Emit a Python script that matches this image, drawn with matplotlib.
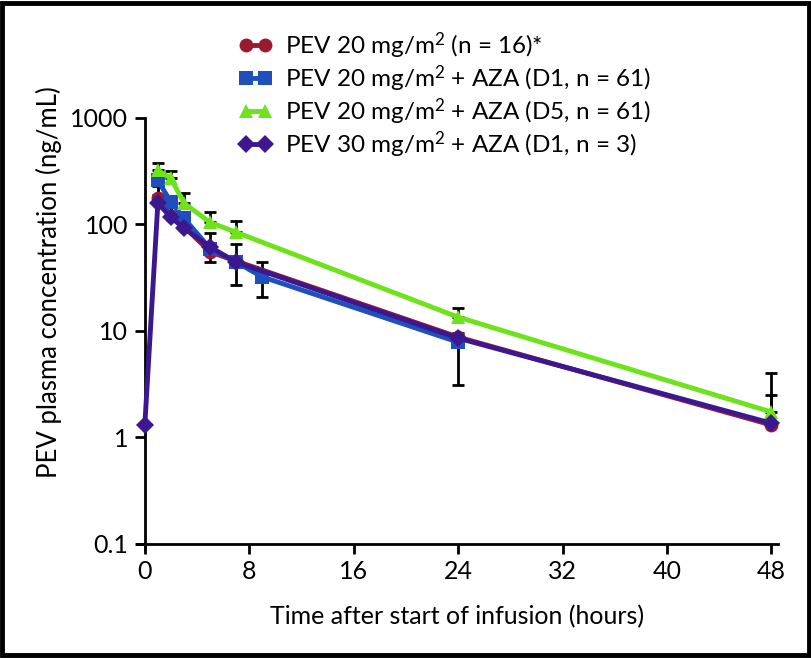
import matplotlib

matplotlib.use("Agg")
import matplotlib.pyplot as plt
from matplotlib.patches import Rectangle

plt.rcParams["font.family"] = ["Lato", "DejaVu Sans"]
plt.rcParams["mathtext.fontset"] = "custom"
plt.rcParams["mathtext.rm"] = "Lato"
plt.rcParams["mathtext.it"] = "Lato"

# values
labels = [
    "PEV 20 mg/m$^2$ (n = 16)*",
    "PEV 20 mg/m$^2$ + AZA (D1, n = 61)",
    "PEV 20 mg/m$^2$ + AZA (D5, n = 61)",
    "PEV 30 mg/m$^2$ + AZA (D1, n = 3)",
]
colors = ["#9c1a2e", "#1f4fbd", "#6ee31c", "#3b1890"]
markers = ["o", "s", "^", "D"]

t_red = [1, 2, 3, 5, 7, 24, 48]
c_red = [175, 120, 95, 55, 45, 8.7, 1.3]
up_red = [230, 175, 130, 82, 65, 9.5, 2.5]

t_blue = [1, 2, 3, 5, 7, 9, 24]
c_blue = [258, 161, 114, 59, 44, 32, 7.8]
lo_blue = [190, 125, 90, 44, 27, 20.6, 3.1]
up_blue = [258, 161, 114, 59, 44, 44, 7.8]

t_green = [1, 2, 3, 5, 7, 24, 48]
c_green = [321, 270, 158, 104, 84, 13.4, 1.72]
up_green = [380, 315, 195, 130, 107, 16.3, 4.0]

t_purple = [0, 1, 2, 3, 5, 7, 24, 48]
c_purple = [1.3, 158, 116, 92, 61, 44, 8.5, 1.35]

xticks = [0, 8, 16, 24, 32, 40, 48]
yticks = [0.1, 1, 10, 100, 1000]
ytick_labels = ["0.1", "1", "10", "100", "1000"]

fig = plt.figure(figsize=(8.12, 6.58), dpi=100)
ax = fig.add_axes([0.1687, 0.1650, 0.7893, 0.6560])

eb_kw = dict(fmt="none", ecolor="black", elinewidth=2, capsize=4.5, capthick=2)

# error bars
ax.errorbar(t_red, c_red, yerr=[[0] * len(c_red), [u - c for u, c in zip(up_red, c_red)]], zorder=2, **eb_kw)
ax.errorbar(t_blue, c_blue, yerr=[[c - l for c, l in zip(c_blue, lo_blue)], [u - c for u, c in zip(up_blue, c_blue)]], zorder=2, **eb_kw)
ax.errorbar(t_green, c_green, yerr=[[0] * len(c_green), [u - c for u, c in zip(up_green, c_green)]], zorder=2, **eb_kw)

series = [(t_red, c_red), (t_blue, c_blue), (t_green, c_green), (t_purple, c_purple)]
handles = []
for (t, c), lab, col, m in zip(series, labels, colors, markers):
    (h,) = ax.plot(t, c, color=col, marker=m, markersize=10 if m != "D" else 9,
                   markeredgewidth=0, linewidth=3.5, label=lab, zorder=3, clip_on=False)
    handles.append(h)

ax.set_yscale("log")
ax.set_ylim(0.088, 1000)
ax.set_xlim(-0.6, 48.5)
ax.set_xticks(xticks)
ax.set_yticks(yticks)
ax.set_yticklabels(ytick_labels)
ax.minorticks_off()

for s in ["top", "right"]:
    ax.spines[s].set_visible(False)
ax.spines["left"].set_position(("data", 0))
ax.spines["bottom"].set_position(("data", 0.1))
for s in ["left", "bottom"]:
    ax.spines[s].set_linewidth(2)
ax.tick_params(axis="both", which="major", length=7, width=2, labelsize=18, pad=5)

ax.set_xlabel("Time after start of infusion (hours)", fontsize=18)
ax.set_ylabel("PEV plasma concentration (ng/mL)", fontsize=18.5)
ax.xaxis.set_label_coords(0.5, -0.128)
ax.yaxis.set_label_coords(-0.117, 0.62)

fig.legend(handles=handles, loc="upper left", bbox_to_anchor=(0.279, 0.972),
           frameon=False, fontsize=17.5, numpoints=2, handlelength=1.4,
           handletextpad=0.5, labelspacing=0.1, borderpad=0)

# outer frame
fig.patches.append(Rectangle((0.003, 0.004), 0.993, 0.991, transform=fig.transFigure,
                             fill=False, edgecolor="black", linewidth=3.5))

fig.savefig("out.png", dpi=100)
